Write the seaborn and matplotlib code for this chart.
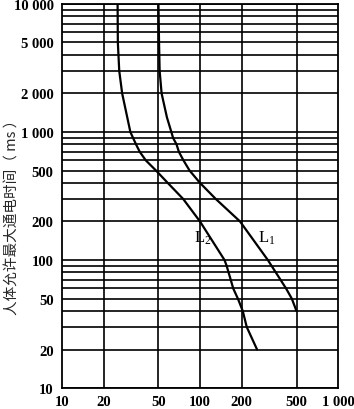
import matplotlib
matplotlib.use("Agg")
import matplotlib.pyplot as plt
import seaborn as sns
import pandas as pd
import numpy as np
from matplotlib.ticker import LogLocator, NullFormatter

# ---- data ----
l1_voltage = [50, 50.5, 51, 52.7, 57.6, 62, 63.8, 67.6, 70.3, 75.9, 84, 100, 130, 195,
              310, 354, 420, 462, 500]
l1_time = [10000, 5000, 3000, 2000, 1300, 1000, 900, 800, 700, 600, 500, 400, 300, 200,
           100, 80, 60, 50, 40]
l2_voltage = [25.3, 25.4, 26, 27.3, 31.3, 34.4, 36.6, 40.5, 48, 58.4, 75.5, 100,
              150.5, 156, 161, 167, 174, 188, 204, 218, 259]
l2_time = [10000, 5000, 3000, 2000, 1000, 800, 700, 600, 500, 400, 300, 200,
           100, 90, 80, 70, 60, 50, 40, 30, 20]

x_ticks = [10, 20, 50, 100, 200, 500, 1000]
x_tick_labels = ["10", "20", "50", "100", "200", "500", "1 000"]
x_grid = [20, 50, 100, 200, 500]
y_ticks = [10, 20, 50, 100, 200, 500, 1000, 2000, 5000, 10000]
y_tick_labels = ["10", "20", "50", "100", "200", "500", "1 000", "2 000", "5 000", "10 000"]
y_label = "人体允许最大通电时间（ ms ）"
curve_names = ["L$_1$", "L$_2$"]
curve_label_pos = [(262, 150), (90, 150)]

df = pd.concat([
    pd.DataFrame({"V": l1_voltage, "t": l1_time, "curve": "L1"}),
    pd.DataFrame({"V": l2_voltage, "t": l2_time, "curve": "L2"}),
])

sns.set_style("white")
plt.rcParams["font.family"] = ["Liberation Serif", "Noto Sans CJK SC", "DejaVu Sans"]
plt.rcParams["mathtext.fontset"] = "custom"
plt.rcParams["mathtext.rm"] = "Liberation Serif"
plt.rcParams["mathtext.it"] = "Liberation Serif"

fig = plt.figure(figsize=(3.54, 4.10), dpi=100)
ax = fig.add_axes([0.175, 0.051, 0.78, 0.937])

sns.lineplot(data=df, x="V", y="t", hue="curve", units="curve", estimator=None,
             sort=False, palette=["black", "black"], linewidth=1.6, legend=False, ax=ax)

ax.set_xscale("log")
ax.set_yscale("log")
ax.set_xlim(10, 1000)
ax.set_ylim(10, 10000)

for xv in x_grid:
    ax.axvline(xv, color="black", lw=1.2, zorder=1)
ax.yaxis.set_minor_locator(LogLocator(base=10, subs=np.arange(1, 10)))
ax.yaxis.set_minor_formatter(NullFormatter())
ax.xaxis.set_minor_locator(plt.NullLocator())
ax.grid(False)
ax.grid(True, axis="y", which="both", color="black", lw=1.2)

ax.set_xticks(x_ticks, x_tick_labels)
ax.set_yticks(y_ticks, y_tick_labels)
ax.tick_params(axis="both", which="both", length=0, labelsize=10.5, colors="black")
ax.tick_params(axis="x", pad=5)
ax.tick_params(axis="y", pad=6)
for lab in ax.get_xticklabels() + ax.get_yticklabels():
    lab.set_fontweight("bold")

ax.set_xlabel("")
ax.set_ylabel(y_label, family=["Noto Sans CJK SC", "DejaVu Sans"], fontsize=10.5)
ax.yaxis.set_label_coords(-0.152, 0.455)

for name, (xv, yv) in zip(curve_names, curve_label_pos):
    ax.text(xv, yv, name, fontsize=12, color="black", ha="left", va="center")

for sp in ax.spines.values():
    sp.set_visible(True)
    sp.set_color("black")
    sp.set_linewidth(1.3)

fig.savefig("out.png", dpi=100)
